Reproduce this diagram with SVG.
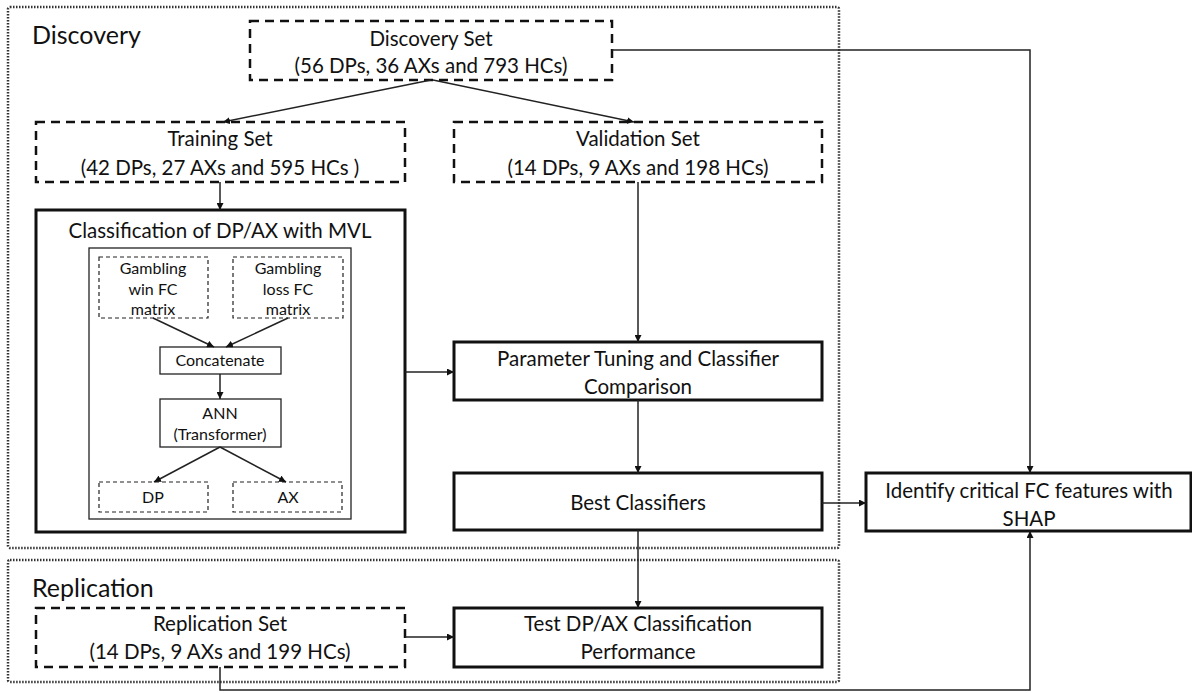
<svg xmlns="http://www.w3.org/2000/svg" width="1192" height="693" viewBox="0 0 1192 693">
<style>
text{font-family:Lato,"Open Sans","Liberation Sans",sans-serif;fill:#111;text-anchor:middle}
.t19{font-size:20.5px}
.t14{font-size:16px}
.lbl{font-size:25px;text-anchor:start}
.region{fill:none;stroke:#333;stroke-width:2.5;stroke-dasharray:1.5 1.5}
.dash{fill:#fff;stroke:#111;stroke-width:2.5;stroke-dasharray:9 6}
.sdash{fill:#fff;stroke:#222;stroke-width:1.2;stroke-dasharray:4 3}
.thick{fill:#fff;stroke:#111;stroke-width:3}
.thin{fill:#fff;stroke:#222;stroke-width:1.3}
.conn path,.conn line{fill:none;stroke:#222;stroke-width:1.5}
</style>
<defs>
<marker id="ah" viewBox="0 0 10 10" refX="10" refY="5" markerWidth="7" markerHeight="7" markerUnits="userSpaceOnUse" orient="auto">
<path d="M0,0 L10,5 L0,10 z" fill="#111"/>
</marker>
</defs>

<rect class="region" x="8" y="7" width="831" height="541" rx="2"/>
<rect class="region" x="8" y="560" width="831" height="122" rx="2"/>
<text class="lbl" x="32" y="44">Discovery</text>
<text class="lbl" x="32" y="597">Replication</text>

<g id="discovery-set">
<rect class="dash" x="250" y="21" width="362" height="59"/>
<text class="t19" x="431" y="46">Discovery Set</text>
<text class="t19" x="431" y="73">(56 DPs, 36 AXs and 793 HCs)</text>
</g>
<g id="training-set">
<rect class="dash" x="36" y="122" width="369" height="60"/>
<text class="t19" x="220" y="146">Training Set</text>
<text class="t19" x="220" y="175">(42 DPs, 27 AXs and 595 HCs )</text>
</g>
<g id="validation-set">
<rect class="dash" x="454" y="122" width="368" height="60"/>
<text class="t19" x="638" y="146">Validation Set</text>
<text class="t19" x="638" y="175">(14 DPs, 9 AXs and 198 HCs)</text>
</g>
<g id="classification">
<rect class="thick" x="36" y="210" width="369" height="322"/>
<text class="t19" x="220" y="238">Classification of DP/AX with MVL</text>
<rect class="thin" x="89" y="248" width="262" height="271"/>
</g>
<g id="win-fc">
<rect class="sdash" x="99" y="257" width="109" height="61"/>
<text class="t14" x="153" y="274">Gambling</text>
<text class="t14" x="153" y="295">win FC</text>
<text class="t14" x="153" y="315">matrix</text>
</g>
<g id="loss-fc">
<rect class="sdash" x="233" y="257" width="110" height="61"/>
<text class="t14" x="288" y="274">Gambling</text>
<text class="t14" x="288" y="295">loss FC</text>
<text class="t14" x="288" y="315">matrix</text>
</g>
<g id="concatenate">
<rect class="thin" x="160" y="347" width="121" height="27"/>
<text class="t14" x="220" y="366">Concatenate</text>
</g>
<g id="ann">
<rect class="thin" x="160" y="399" width="121" height="48"/>
<text class="t14" x="220" y="419">ANN</text>
<text class="t14" x="220" y="440">(Transformer)</text>
</g>
<g id="dp">
<rect class="sdash" x="99" y="482" width="109" height="30"/>
<text class="t14" x="153" y="503">DP</text>
</g>
<g id="ax">
<rect class="sdash" x="233" y="482" width="109" height="30"/>
<text class="t14" x="288" y="503">AX</text>
</g>
<g id="parameter-tuning">
<rect class="thick" x="454" y="342" width="368" height="58"/>
<text class="t19" x="638" y="366">Parameter Tuning and Classifier</text>
<text class="t19" x="638" y="394">Comparison</text>
</g>
<g id="best-classifiers">
<rect class="thick" x="454" y="473" width="368" height="57"/>
<text class="t19" x="638" y="510">Best Classifiers</text>
</g>
<g id="identify-shap">
<rect class="thick" x="866" y="473" width="325" height="58"/>
<text class="t19" x="1029" y="498">Identify critical FC features with</text>
<text class="t19" x="1029" y="526">SHAP</text>
</g>
<g id="replication-set">
<rect class="dash" x="36" y="608" width="369" height="59"/>
<text class="t19" x="220" y="631">Replication Set</text>
<text class="t19" x="220" y="659">(14 DPs, 9 AXs and 199 HCs)</text>
</g>
<g id="test-performance">
<rect class="thick" x="454" y="608" width="368" height="59"/>
<text class="t19" x="638" y="631">Test DP/AX Classification</text>
<text class="t19" x="638" y="659">Performance</text>
</g>

<g class="conn" id="connectors">
<line x1="431" y1="80" x2="223" y2="122" marker-end="url(#ah)"/>
<line x1="433" y1="80" x2="634" y2="122" marker-end="url(#ah)"/>
<line x1="220" y1="182" x2="220" y2="210" marker-end="url(#ah)"/>
<line x1="638" y1="182" x2="638" y2="342" marker-end="url(#ah)"/>
<line x1="405" y1="372" x2="454" y2="372" marker-end="url(#ah)"/>
<line x1="638" y1="400" x2="638" y2="473" marker-end="url(#ah)"/>
<line x1="822" y1="503" x2="866" y2="503" marker-end="url(#ah)"/>
<line x1="638" y1="530" x2="638" y2="608" marker-end="url(#ah)"/>
<line x1="405" y1="637" x2="454" y2="637" marker-end="url(#ah)"/>
<path d="M612,50 H1030 V473" marker-end="url(#ah)"/>
<path d="M220,667 V690 H1030 V531" marker-end="url(#ah)"/>
<line x1="153" y1="318" x2="214" y2="347" marker-end="url(#ah)"/>
<line x1="288" y1="318" x2="226" y2="347" marker-end="url(#ah)"/>
<line x1="220" y1="374" x2="220" y2="399" marker-end="url(#ah)"/>
<line x1="220" y1="447" x2="154" y2="482" marker-end="url(#ah)"/>
<line x1="220" y1="447" x2="286" y2="482" marker-end="url(#ah)"/>
</g>
</svg>
